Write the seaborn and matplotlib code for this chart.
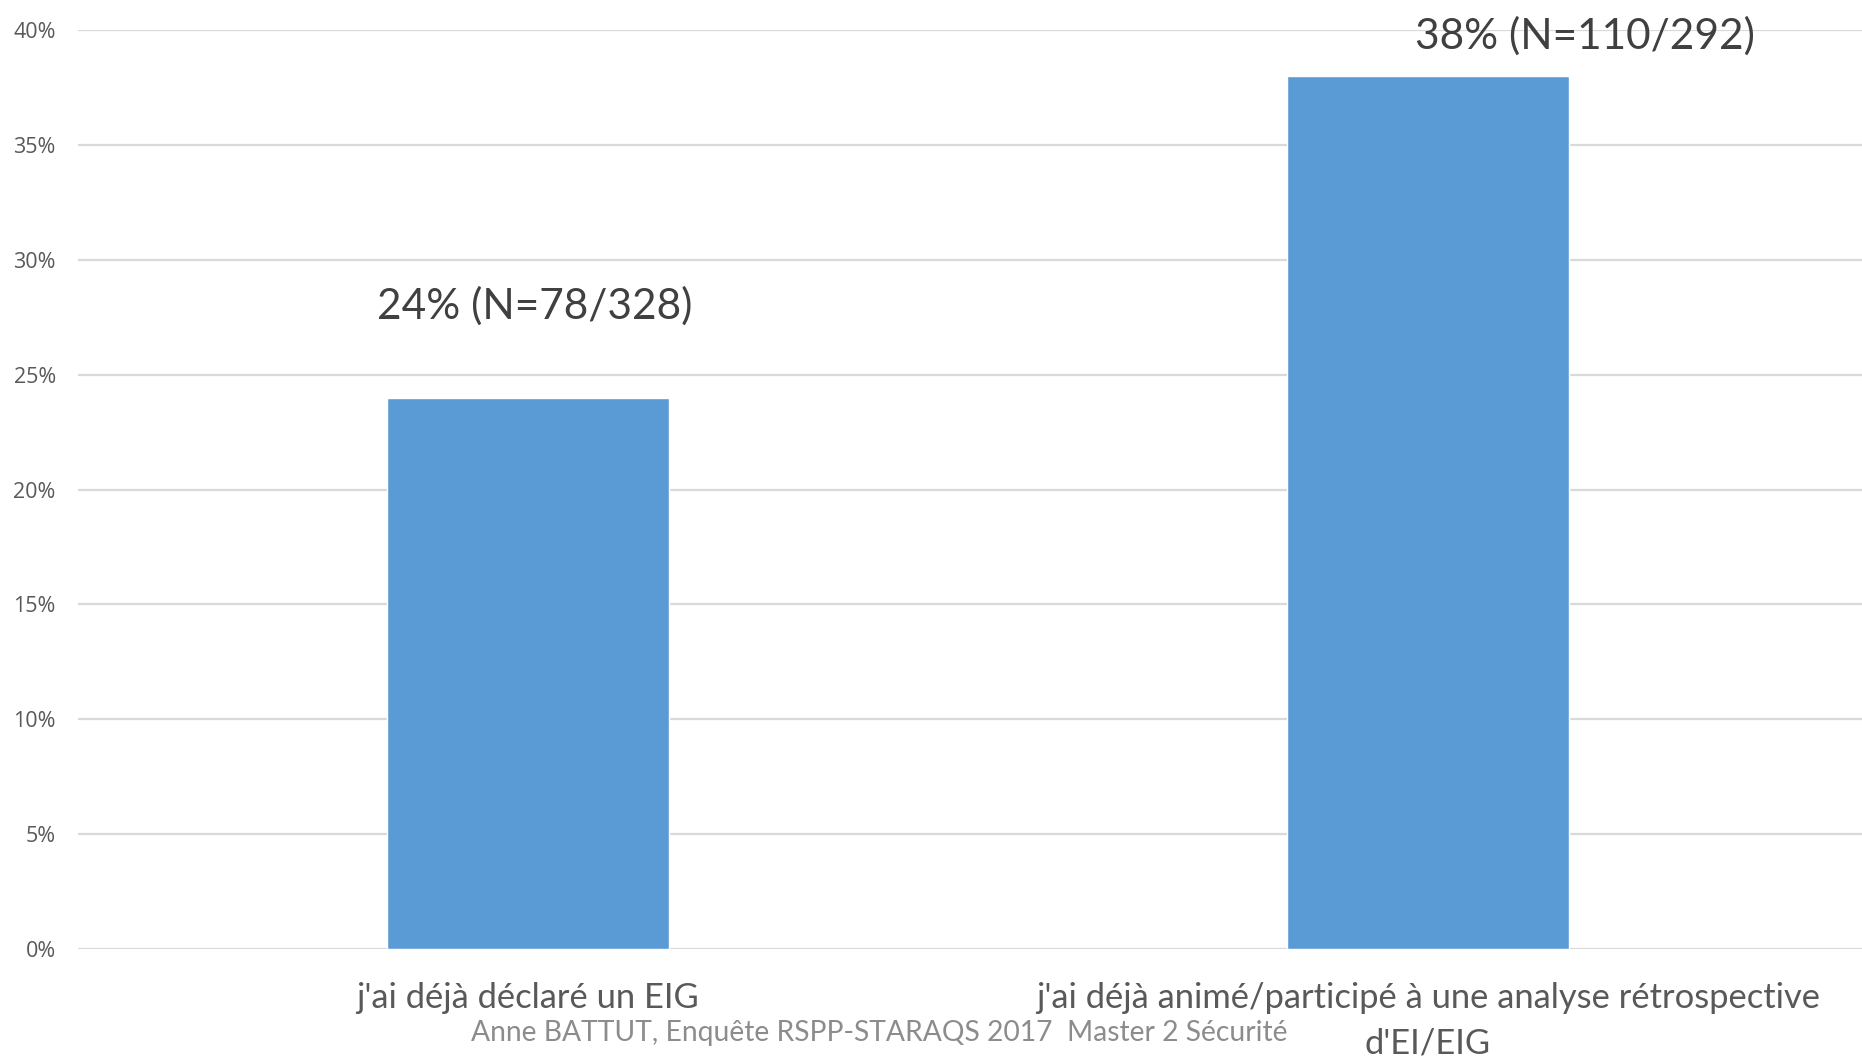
import matplotlib
matplotlib.use("Agg")
import matplotlib.pyplot as plt
import seaborn as sns
import pandas as pd

categories = ["j'ai déjà déclaré un EIG",
              "j'ai déjà animé/participé à une analyse rétrospective\nd'EI/EIG"]
values = [24, 38]
value_labels = ["24% (N=78/328)", "38% (N=110/292)"]
y_ticks = [0, 5, 10, 15, 20, 25, 30, 35, 40]
footer = "Anne BATTUT, Enquête RSPP-STARAQS 2017  Master 2 Sécurité"

df = pd.DataFrame({"cat": categories, "val": values})

sns.set_theme(style="white")
plt.rcParams["font.family"] = ["Lato", "DejaVu Sans"]

W, H = 1862, 1059
fig = plt.figure(figsize=(W / 100, H / 100), dpi=100)
ax = fig.add_axes([78 / W, (H - 949) / H, (W - 78) / W, (949 - 30) / H])

sns.barplot(data=df, x="cat", y="val", color="#5B9BD5", saturation=1,
            width=0.313, ax=ax, zorder=3)

ax.set_xlim(-0.5, -0.5 + (W - 78) / 900)
ax.set_ylim(0, 40)
ax.set_yticks(y_ticks)
ax.set_yticklabels([f"{t}%" for t in y_ticks], fontfamily="Open Sans",
                   fontsize=15.5, color="#595959")
ax.yaxis.grid(True, color="#D9D9D9", linewidth=1.6, zorder=0)
ax.xaxis.grid(False)
for s in ax.spines.values():
    s.set_visible(False)
ax.tick_params(axis="y", length=0, pad=16)
ax.tick_params(axis="x", length=0, pad=24)
ax.set_xlabel("")
ax.set_ylabel("")
ax.set_xticks(range(len(categories)))
first_lines = [c.split("\n")[0] for c in categories]
ax.set_xticklabels(first_lines, fontsize=24.8, color="#595959", va="top")

# continuation lines of wrapped category labels
xtr = ax.get_xaxis_transform()
for i, c in enumerate(categories):
    rest = c.split("\n")[1:]
    for k, line in enumerate(rest):
        ax.text(i, -0.1023 - k * 0.05, line, transform=xtr, ha="center",
                va="center", fontsize=24.8, color="#595959", clip_on=False)

# data labels
label_pos = [(0.007, 27.45), (1.174, 39.2)]
for (x, y), t in zip(label_pos, value_labels):
    ax.text(x, y, t, ha="center", va="baseline", fontsize=30.5, color="#404040",
            clip_on=False, zorder=5)

fig.text(879 / W, 1 - 1033 / H, footer, ha="center", va="center",
         fontsize=20.3, color="#8C8C8C")

fig.savefig("out.png", dpi=100, facecolor="white")
